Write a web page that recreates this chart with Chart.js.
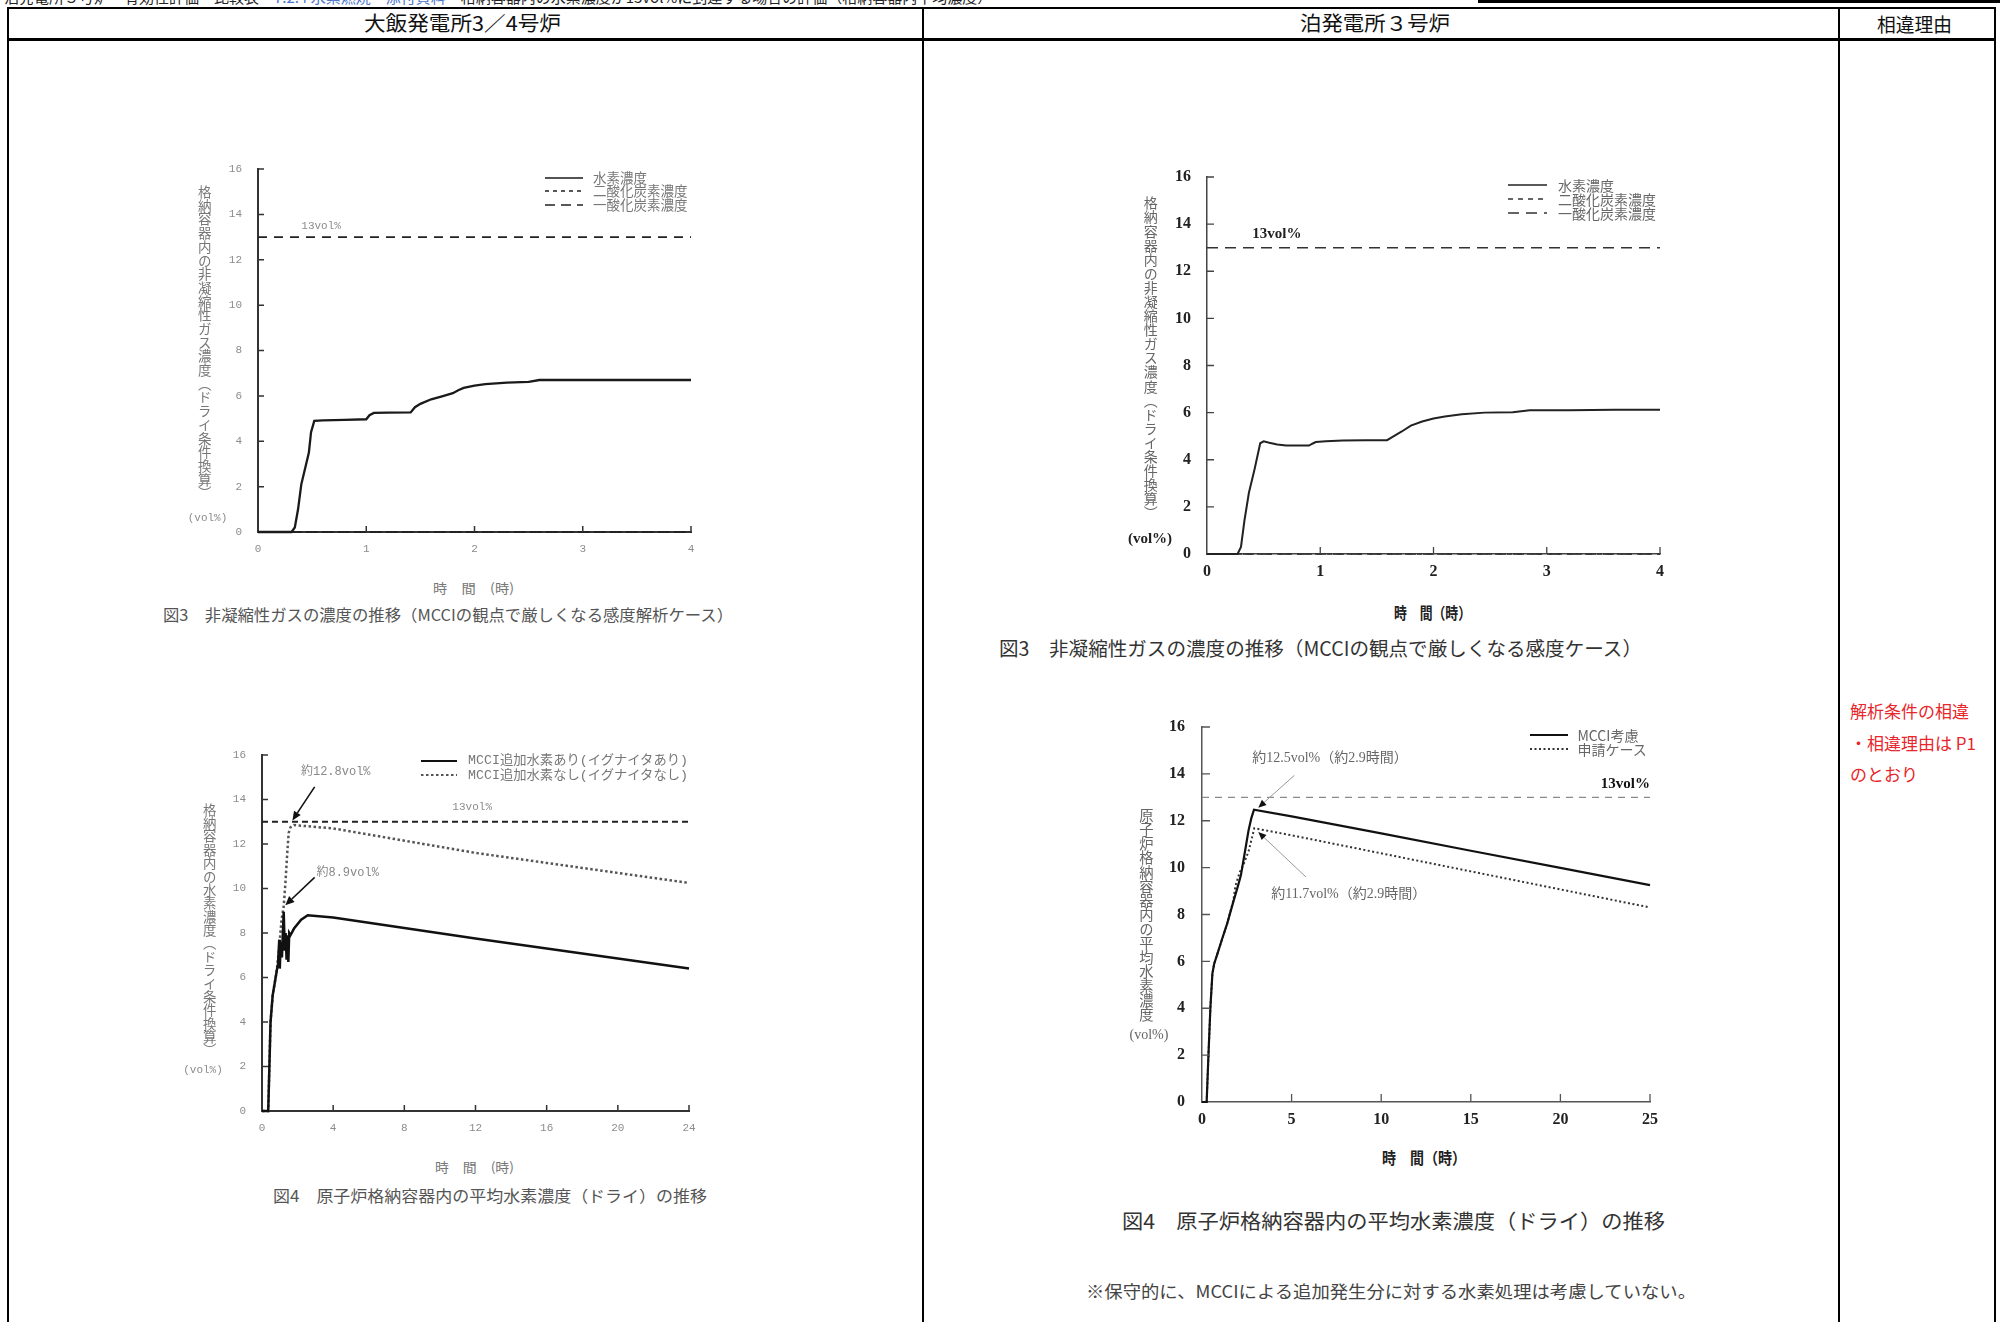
<!DOCTYPE html>
<html><head><meta charset="utf-8">
<script src="https://cdn.jsdelivr.net/npm/chart.js@4.4.1/dist/chart.umd.min.js"></script>
<style>
html,body{margin:0;padding:0;background:#fff;}
#page{position:relative;width:2000px;height:1322px;overflow:hidden;background:#fff;}
.ln{position:absolute;background:#000;}
.tx{position:absolute;white-space:nowrap;line-height:1;transform-origin:0 50%;}
canvas{position:absolute;}
svg{position:absolute;overflow:visible;}
</style></head><body><div id="page"></div>
<script>
// ================= DATA =================
// 図3 大飯3/4号炉: 非凝縮性ガス濃度 (0-4 h)
const ohiGasHours  = [0, 0.31, 0.34, 0.37, 0.40, 0.44, 0.47, 0.49, 0.52, 0.6, 0.8, 1.0, 1.03, 1.07, 1.2, 1.41, 1.45, 1.5, 1.6, 1.7, 1.8, 1.85, 1.9, 2.0, 2.1, 2.3, 2.5, 2.6, 3.0, 3.5, 4.0];
const ohiGasH2     = [0, 0, 0.2, 1.0, 2.1, 2.9, 3.5, 4.4, 4.9, 4.92, 4.94, 4.97, 5.15, 5.25, 5.26, 5.27, 5.5, 5.65, 5.85, 5.98, 6.12, 6.25, 6.35, 6.45, 6.52, 6.58, 6.62, 6.7, 6.7, 6.7, 6.7];
const ohiGasCO2Hours = [0, 4];
const ohiGasCO2      = [0, 0];
const ohiGasCOHours  = [0, 4];
const ohiGasCO       = [0, 0];

// 図3 泊3号炉: 非凝縮性ガス濃度 (0-4 h)
const tomariGasHours = [0, 0.27, 0.30, 0.33, 0.37, 0.42, 0.47, 0.50, 0.55, 0.62, 0.70, 0.80, 0.90, 0.93, 0.96, 1.05, 1.2, 1.4, 1.59, 1.65, 1.72, 1.8, 1.9, 2.0, 2.1, 2.25, 2.45, 2.7, 2.85, 3.2, 3.6, 4.0];
const tomariGasH2    = [0, 0, 0.3, 1.4, 2.6, 3.6, 4.7, 4.78, 4.72, 4.65, 4.6, 4.6, 4.6, 4.68, 4.75, 4.78, 4.82, 4.83, 4.83, 5.0, 5.2, 5.45, 5.62, 5.75, 5.84, 5.93, 6.0, 6.02, 6.1, 6.1, 6.12, 6.12];
const tomariGasCO2Hours = [0, 4];
const tomariGasCO2      = [0, 0];
const tomariGasCOHours  = [0, 4];
const tomariGasCO       = [0, 0];

// 図4 大飯3/4号炉: 平均水素濃度 (0-24 h)
const ohiH2Hours       = [0, 0.35, 0.48, 0.6, 0.83, 0.9, 0.97, 1.0, 1.05, 1.12, 1.22, 1.28, 1.33, 1.38, 1.43, 1.48, 1.53, 1.6, 1.8, 2.2, 2.57, 4, 8, 12, 16, 20, 24];
const ohiH2WithIgniter = [0, 0, 4.0, 5.2, 6.3, 6.6, 7.7, 6.4, 7.6, 6.9, 8.95, 7.2, 8.0, 6.8, 7.9, 6.7, 8.0, 7.9, 8.2, 8.6, 8.8, 8.7, 8.22, 7.75, 7.3, 6.85, 6.4];
const ohiH2NoIgnHours  = [0, 0.35, 0.48, 0.6, 0.83, 0.97, 1.1, 1.22, 1.32, 1.42, 1.5, 1.6, 1.8, 4, 8, 12, 16, 20, 24];
const ohiH2NoIgniter   = [0, 0, 4.0, 5.2, 6.3, 7.4, 8.6, 9.2, 10.3, 11.6, 12.5, 12.75, 12.85, 12.7, 12.15, 11.6, 11.15, 10.7, 10.25];

// 図4 泊3号炉: 平均水素濃度 (0-25 h)
const tomariH2Hours     = [0, 0.26, 0.36, 0.47, 0.58, 0.68, 0.85, 1.1, 1.4, 1.75, 2.0, 2.17, 2.4, 2.6, 2.75, 2.9, 5, 10, 15, 20, 25];
const tomariH2MCCI      = [0, 0, 2.0, 4.05, 5.48, 5.9, 6.3, 6.9, 7.6, 8.55, 9.2, 9.67, 10.7, 11.6, 12.1, 12.47, 12.19, 11.46, 10.72, 9.99, 9.25];
const tomariH2BaseHours = [0, 0.26, 0.36, 0.47, 0.58, 0.68, 0.85, 1.1, 1.4, 1.75, 1.86, 2.1, 2.3, 2.6, 2.92, 5, 10, 15, 20, 25];
const tomariH2Base      = [0, 0, 2.0, 4.05, 5.48, 5.9, 6.3, 6.9, 7.6, 8.6, 9.2, 9.8, 10.1, 10.7, 11.68, 11.38, 10.61, 9.84, 9.07, 8.3];

const limitVolPct = 13;

// tick labels
const gasXTicks      = [0, 1, 2, 3, 4];
const ohiH2XTicks    = [0, 4, 8, 12, 16, 20, 24];
const tomariH2XTicks = [0, 5, 10, 15, 20, 25];
const volYTicks      = [0, 2, 4, 6, 8, 10, 12, 14, 16];

// series names
const gasSeriesNames      = ['水素濃度', '二酸化炭素濃度', '一酸化炭素濃度'];
const ohiH2SeriesNames    = ['MCCI追加水素あり(イグナイタあり)', 'MCCI追加水素なし(イグナイタなし)'];
const tomariH2SeriesNames = ['MCCI考慮', '申請ケース'];

// ================= HELPERS =================
const JP = '"Noto Sans CJK JP","Noto Sans",sans-serif';
const MONO = '"Liberation Mono","DejaVu Sans Mono","Noto Sans CJK JP",monospace';
const SERIF = '"Liberation Serif","DejaVu Serif",serif';
const SERIF_JP = '"Liberation Serif","Noto Sans CJK JP",serif';
const page = document.getElementById('page');

function pts(xs, ys) { return xs.map((x, i) => ({x: x, y: ys[i]})); }

function rule(x, y, w, h, c) {
  const d = document.createElement('div'); d.className = 'ln';
  Object.assign(d.style, {left: x + 'px', top: y + 'px', width: w + 'px', height: h + 'px', background: c || '#000'});
  page.appendChild(d);
}
function text(s, x, y, o) {
  o = o || {};
  const d = document.createElement('div'); d.className = 'tx';
  d.textContent = s;
  d.style.fontSize = (o.size || 16) + 'px';
  d.style.fontFamily = o.family || JP;
  d.style.color = o.color || '#000';
  if (o.weight) d.style.fontWeight = o.weight;
  page.appendChild(d);
  const r = d.getBoundingClientRect();
  const w = o.w || r.width;
  let left = x;
  if (o.align === 'center') left = x - w / 2;
  else if (o.align === 'right') left = x - w;
  d.style.left = left + 'px';
  d.style.top = (y - r.height / 2) + 'px';
  if (o.w) d.style.transform = 'scaleX(' + (o.w / r.width) + ')';
  return d;
}
function vtext(s, cx, y0, y1, o) {
  const d = document.createElement('div'); d.className = 'tx';
  d.textContent = s;
  Object.assign(d.style, {writingMode: 'vertical-rl', fontSize: o.size + 'px', fontFamily: o.family || JP, color: o.color || '#000'});
  page.appendChild(d);
  const r = d.getBoundingClientRect();
  d.style.left = (cx - r.width / 2) + 'px';
  d.style.top = y0 + 'px';
  d.style.transformOrigin = '50% 0';
  d.style.transform = 'scaleY(' + ((y1 - y0) / r.height) + ')';
}
function legend(datasets, x0, x1, tx, ys, o) {
  datasets.forEach((ds, i) => {
    const svg = document.createElementNS('http://www.w3.org/2000/svg', 'svg');
    svg.setAttribute('width', x1 - x0); svg.setAttribute('height', 6);
    svg.style.left = x0 + 'px'; svg.style.top = (ys[i] - 3) + 'px';
    const l = document.createElementNS('http://www.w3.org/2000/svg', 'line');
    l.setAttribute('x1', 0); l.setAttribute('x2', x1 - x0); l.setAttribute('y1', 3); l.setAttribute('y2', 3);
    l.setAttribute('stroke', ds.borderColor); l.setAttribute('stroke-width', o.lw || 1.6);
    if (ds.borderDash && ds.borderDash.length) l.setAttribute('stroke-dasharray', ds.borderDash.join(','));
    svg.appendChild(l); page.appendChild(svg);
    text(ds.label, tx, ys[i], {size: o.size, family: o.family, color: o.color, w: o.ws ? o.ws[i] : undefined});
  });
}

// inward tick marks drawn from the scales
const inwardTicks = {
  id: 'inwardTicks',
  afterDatasetsDraw(chart, args, opts) {
    const ctx = chart.ctx, a = chart.chartArea, x = chart.scales.x, y = chart.scales.y;
    ctx.save(); ctx.strokeStyle = opts.color; ctx.lineWidth = opts.width; ctx.setLineDash([]);
    ctx.beginPath();
    x.ticks.forEach(t => { if (t.value === x.min) return; const p = x.getPixelForValue(t.value); ctx.moveTo(p, a.bottom); ctx.lineTo(p, a.bottom - opts.len); });
    y.ticks.forEach(t => { if (t.value === y.min) return; const p = y.getPixelForValue(t.value); ctx.moveTo(a.left, p); ctx.lineTo(a.left + opts.len, p); });
    ctx.stroke(); ctx.restore();
  }
};
// text labels and arrows anchored in data space
const notes = {
  id: 'notes',
  afterDatasetsDraw(chart, args, opts) {
    const ctx = chart.ctx, x = chart.scales.x, y = chart.scales.y;
    ctx.save();
    (opts.arrows || []).forEach(ar => {
      const x0 = x.getPixelForValue(ar.from[0]), y0 = y.getPixelForValue(ar.from[1]);
      const x1 = x.getPixelForValue(ar.to[0]), y1 = y.getPixelForValue(ar.to[1]);
      const ang = Math.atan2(y1 - y0, x1 - x0), hl = ar.head || 8, hw = ar.headW || 3.5;
      const bx = x1 - Math.cos(ang) * hl, by = y1 - Math.sin(ang) * hl;
      ctx.strokeStyle = ar.color; ctx.lineWidth = ar.width; ctx.setLineDash([]);
      ctx.beginPath(); ctx.moveTo(x0, y0); ctx.lineTo(bx, by); ctx.stroke();
      ctx.fillStyle = ar.headColor || ar.color;
      ctx.beginPath(); ctx.moveTo(x1, y1);
      ctx.lineTo(bx + Math.sin(ang) * hw, by - Math.cos(ang) * hw);
      ctx.lineTo(bx - Math.sin(ang) * hw, by + Math.cos(ang) * hw);
      ctx.closePath(); ctx.fill();
    });
    (opts.texts || []).forEach(t => {
      ctx.font = t.font; ctx.fillStyle = t.color; ctx.textAlign = t.align || 'left'; ctx.textBaseline = 'middle';
      ctx.fillText(t.text, x.getPixelForValue(t.x), y.getPixelForValue(t.y));
    });
    ctx.restore();
  }
};

function makeChart(c) {
  const yW = 50, xH = 36, padT = 10, padR = 22;
  const left = Math.round(c.plot.l) - yW, top = Math.round(c.plot.t) - padT;
  const W = Math.round(c.plot.r) + padR - left, H = Math.round(c.plot.b) + xH - top;
  const cv = document.createElement('canvas');
  cv.width = W; cv.height = H;
  Object.assign(cv.style, {left: left + 'px', top: top + 'px', width: W + 'px', height: H + 'px'});
  page.appendChild(cv);
  const tickFont = c.tickFont;
  return new Chart(cv.getContext('2d'), {
    type: 'line',
    data: {datasets: c.datasets},
    options: {
      responsive: false, animation: false, devicePixelRatio: 1,
      layout: {padding: {left: 0, top: padT, right: padR, bottom: 0}},
      elements: {point: {radius: 0}, line: {tension: 0, borderCapStyle: 'butt'}},
      plugins: {legend: {display: false}, tooltip: {enabled: false},
        inwardTicks: {color: c.axisColor, width: c.tickW, len: c.tickLen},
        notes: c.notes},
      scales: {
        x: {type: 'linear', min: c.xMin, max: c.xMax,
          grid: {display: false}, border: {display: true, color: c.axisColor, width: c.axisW},
          ticks: {font: tickFont, color: c.tickColor, padding: c.xPad, maxRotation: 0, autoSkip: false},
          afterBuildTicks: s => { s.ticks = c.xTicks.map(v => ({value: v})); },
          afterFit: s => { s.height = xH; s.paddingLeft = 0; s.paddingRight = 0; }},
        y: {type: 'linear', min: 0, max: 16,
          grid: {display: false}, border: {display: true, color: c.axisColor, width: c.axisW},
          ticks: {font: tickFont, color: c.tickColor, padding: c.yPad, autoSkip: false},
          afterBuildTicks: s => { s.ticks = volYTicks.map(v => ({value: v})); },
          afterFit: s => { s.width = yW; s.paddingTop = 0; s.paddingBottom = 0; }}
      }
    },
    plugins: [inwardTicks, notes]
  });
}
function limitLine(xMax, dash, color, w) {
  return {label: '13vol%', data: pts([0, xMax], [limitVolPct, limitVolPct]), borderColor: color, borderWidth: w, borderDash: dash, clip: false, order: 5};
}

// ================= PAGE FRAME =================
const topStrip = document.createElement('div');
topStrip.className = 'tx';
Object.assign(topStrip.style, {left: '4px', top: '-11px', fontSize: '15px', fontFamily: JP, color: '#222'});
topStrip.innerHTML = '泊発電所３号炉　有効性評価　比較表　<span style="color:#4a74c9">7.2.4 水素燃焼　添付資料</span>　格納容器内の水素濃度が13vol%に到達する場合の評価（格納容器内平均濃度）';
page.appendChild(topStrip);
rule(1478, 0, 522, 3);
rule(7, 7, 1988, 2);
rule(7, 38, 1988, 3);
rule(7, 7, 2, 1315);
rule(922, 7, 2, 1315);
rule(1838, 7, 2, 1315);
rule(1994, 7, 2, 1315);

text('大飯発電所3／4号炉', 462, 23, {size: 20, align: 'center', w: 197, color: '#111'});
text('泊発電所３号炉', 1375, 23, {size: 20, align: 'center', w: 150, color: '#111'});
text('相違理由', 1914, 23, {size: 19, align: 'center', w: 75, color: '#111'});

text('解析条件の相違', 1850, 710, {size: 17, color: '#e8262c'});
text('・相違理由は P1', 1850, 742, {size: 17, color: '#e8262c'});
text('のとおり', 1850, 773, {size: 17, color: '#e8262c'});

// ================= CHART 1 : 大飯 図3 =================
const c1ds = [
  {label: gasSeriesNames[0], data: pts(ohiGasHours, ohiGasH2), borderColor: '#1a1a1a', borderWidth: 2.3, borderDash: [], clip: false, order: 1},
  {label: gasSeriesNames[1], data: pts(ohiGasCO2Hours, ohiGasCO2), borderColor: '#222', borderWidth: 1.8, borderDash: [4, 4], clip: false, order: 2},
  {label: gasSeriesNames[2], data: pts(ohiGasCOHours, ohiGasCO), borderColor: '#222', borderWidth: 1.8, borderDash: [10, 6], clip: false, order: 3}
];
makeChart({
  plot: {l: 257.5, r: 690.7, t: 169, b: 531.7}, xMin: 0, xMax: 4, xTicks: gasXTicks,
  tickFont: {family: MONO, size: 11}, tickColor: '#8c8c8c', xPad: 2, yPad: 8,
  axisColor: '#333', axisW: 2, tickW: 1.5, tickLen: 6,
  datasets: c1ds.concat([limitLine(4, [9, 7], '#222', 1.8)]),
  notes: {texts: [{x: 0.4, y: 13.5, text: '13vol%', font: '11px ' + MONO, color: '#8c8c8c'}]}
});
legend(c1ds, 545, 583, 593, [178, 191, 205], {size: 13.5, color: '#777', lw: 1.6});
vtext('格納容器内の非凝縮性ガス濃度（ドライ条件換算）', 204, 185, 500, {size: 13.5, color: '#777'});
text('(vol%)', 207.5, 518, {size: 11, family: MONO, color: '#8c8c8c', align: 'center'});
text('時　間　(時)', 473.5, 587, {size: 13, color: '#777', align: 'center', w: 81});
text('図3　非凝縮性ガスの濃度の推移（MCCIの観点で厳しくなる感度解析ケース）', 163, 614, {size: 16, color: '#555', w: 570});

// ================= CHART 2 : 泊 図3 =================
const c2ds = [
  {label: gasSeriesNames[0], data: pts(tomariGasHours, tomariGasH2), borderColor: '#222', borderWidth: 2, borderDash: [], clip: false, order: 1},
  {label: gasSeriesNames[1], data: pts(tomariGasCO2Hours, tomariGasCO2), borderColor: '#333', borderWidth: 1.5, borderDash: [5, 5], clip: false, order: 2},
  {label: gasSeriesNames[2], data: pts(tomariGasCOHours, tomariGasCO), borderColor: '#333', borderWidth: 1.5, borderDash: [11, 7], clip: false, order: 3}
];
makeChart({
  plot: {l: 1206.8, r: 1659.6, t: 176.7, b: 554}, xMin: 0, xMax: 4, xTicks: gasXTicks,
  tickFont: {family: SERIF, size: 16, weight: 'bold'}, tickColor: '#222', xPad: 0, yPad: 8,
  axisColor: '#444', axisW: 1.5, tickW: 1.3, tickLen: 7,
  datasets: c2ds.concat([limitLine(4, [11, 7], '#333', 1.5)]),
  notes: {texts: [{x: 0.4, y: 13.56, text: '13vol%', font: 'bold 15px ' + SERIF, color: '#222'}]}
});
legend(c2ds, 1508, 1547, 1558, [185, 199.3, 213.3], {size: 14, color: '#666', lw: 1.5});
vtext('格納容器内の非凝縮性ガス濃度（ドライ条件換算）', 1150.7, 196, 520, {size: 14, color: '#666'});
text('(vol%)', 1150, 538, {size: 15, family: SERIF, weight: 'bold', color: '#222', align: 'center'});
text('時　間（時）', 1432, 611.7, {size: 16, weight: 'bold', color: '#222', align: 'center', w: 77});
text('図3　非凝縮性ガスの濃度の推移（MCCIの観点で厳しくなる感度ケース）', 999, 648, {size: 19.5, color: '#333', w: 643});

// ================= CHART 3 : 大飯 図4 =================
const c3ds = [
  {label: ohiH2SeriesNames[0], data: pts(ohiH2Hours, ohiH2WithIgniter), borderColor: '#111', borderWidth: 2.5, borderDash: [], clip: false, order: 1},
  {label: ohiH2SeriesNames[1], data: pts(ohiH2NoIgnHours, ohiH2NoIgniter), borderColor: '#555', borderWidth: 2.5, borderDash: [2.5, 2.5], clip: false, order: 2}
];
makeChart({
  plot: {l: 261.6, r: 689, t: 755, b: 1110.7}, xMin: 0, xMax: 24, xTicks: ohiH2XTicks,
  tickFont: {family: MONO, size: 11}, tickColor: '#8c8c8c', xPad: 2, yPad: 8,
  axisColor: '#333', axisW: 2, tickW: 1.5, tickLen: 6,
  datasets: c3ds.concat([limitLine(24, [6, 4], '#222', 2)]),
  notes: {
    texts: [
      {x: 10.7, y: 13.68, text: '13vol%', font: '11px ' + MONO, color: '#8c8c8c'},
      {x: 2.19, y: 15.25, text: '約12.8vol%', font: '12px ' + MONO, color: '#888'},
      {x: 3.06, y: 10.7, text: '約8.9vol%', font: '12px ' + MONO, color: '#888'}
    ],
    arrows: [
      {from: [2.96, 14.57], to: [1.71, 13.06], color: '#111', width: 1.6, head: 9, headW: 4},
      {from: [2.96, 10.5], to: [1.31, 9.25], color: '#111', width: 1.6, head: 9, headW: 4}
    ]
  }
});
legend(c3ds, 421, 457, 467.5, [760.7, 775], {size: 13, family: MONO, color: '#777', lw: 2, ws: [220, 220]});
vtext('格納容器内の水素濃度（ドライ条件換算）', 209, 803, 1057, {size: 13.4, color: '#777'});
text('(vol%)', 203, 1070, {size: 11, family: MONO, color: '#8c8c8c', align: 'center'});
text('時　間　(時)', 474.5, 1166.7, {size: 13, color: '#777', align: 'center', w: 79});
text('図4　原子炉格納容器内の平均水素濃度（ドライ）の推移', 273, 1195, {size: 16, color: '#555', w: 434});

// ================= CHART 4 : 泊 図4 =================
const c4ds = [
  {label: tomariH2SeriesNames[0], data: pts(tomariH2Hours, tomariH2MCCI), borderColor: '#111', borderWidth: 2.2, borderDash: [], clip: false, order: 1},
  {label: tomariH2SeriesNames[1], data: pts(tomariH2BaseHours, tomariH2Base), borderColor: '#333', borderWidth: 2, borderDash: [2, 2.5], clip: false, order: 2}
];
makeChart({
  plot: {l: 1201.7, r: 1650.2, t: 726.7, b: 1101.7}, xMin: 0, xMax: 25, xTicks: tomariH2XTicks,
  tickFont: {family: SERIF, size: 16, weight: 'bold'}, tickColor: '#222', xPad: 0, yPad: 9,
  axisColor: '#555', axisW: 1.5, tickW: 1.3, tickLen: 8,
  datasets: c4ds.concat([limitLine(25, [7, 6], '#8a8a8a', 1.2)]),
  notes: {
    texts: [
      {x: 25, y: 13.58, text: '13vol%', font: 'bold 15px ' + SERIF, color: '#111', align: 'right'},
      {x: 2.8, y: 14.68, text: '約12.5vol%（約2.9時間）', font: '14px ' + SERIF_JP, color: '#666'},
      {x: 3.86, y: 8.86, text: '約11.7vol%（約2.9時間）', font: '14px ' + SERIF_JP, color: '#666'}
    ],
    arrows: [
      {from: [5.16, 13.94], to: [3.14, 12.56], color: '#999', width: 1, headColor: '#111', head: 8, headW: 3.5},
      {from: [5.8, 9.6], to: [3.14, 11.52], color: '#999', width: 1, headColor: '#111', head: 8, headW: 3.5}
    ]
  }
});
legend(c4ds, 1530, 1568, 1577.5, [735, 749.3], {size: 14, color: '#666', lw: 2});
vtext('原子炉格納容器内の平均水素濃度', 1145.8, 808, 1022, {size: 14.3, color: '#666'});
text('(vol%)', 1149, 1035, {size: 14, family: SERIF, color: '#666', align: 'center'});
text('時　間（時）', 1424, 1156.7, {size: 16, weight: 'bold', color: '#222', align: 'center', w: 84});
text('図4　原子炉格納容器内の平均水素濃度（ドライ）の推移', 1122, 1220, {size: 20.5, color: '#333', w: 543});
text('※保守的に、MCCIによる追加発生分に対する水素処理は考慮していない。', 1086, 1290, {size: 17, color: '#444', w: 610});
</script>
</body></html>
